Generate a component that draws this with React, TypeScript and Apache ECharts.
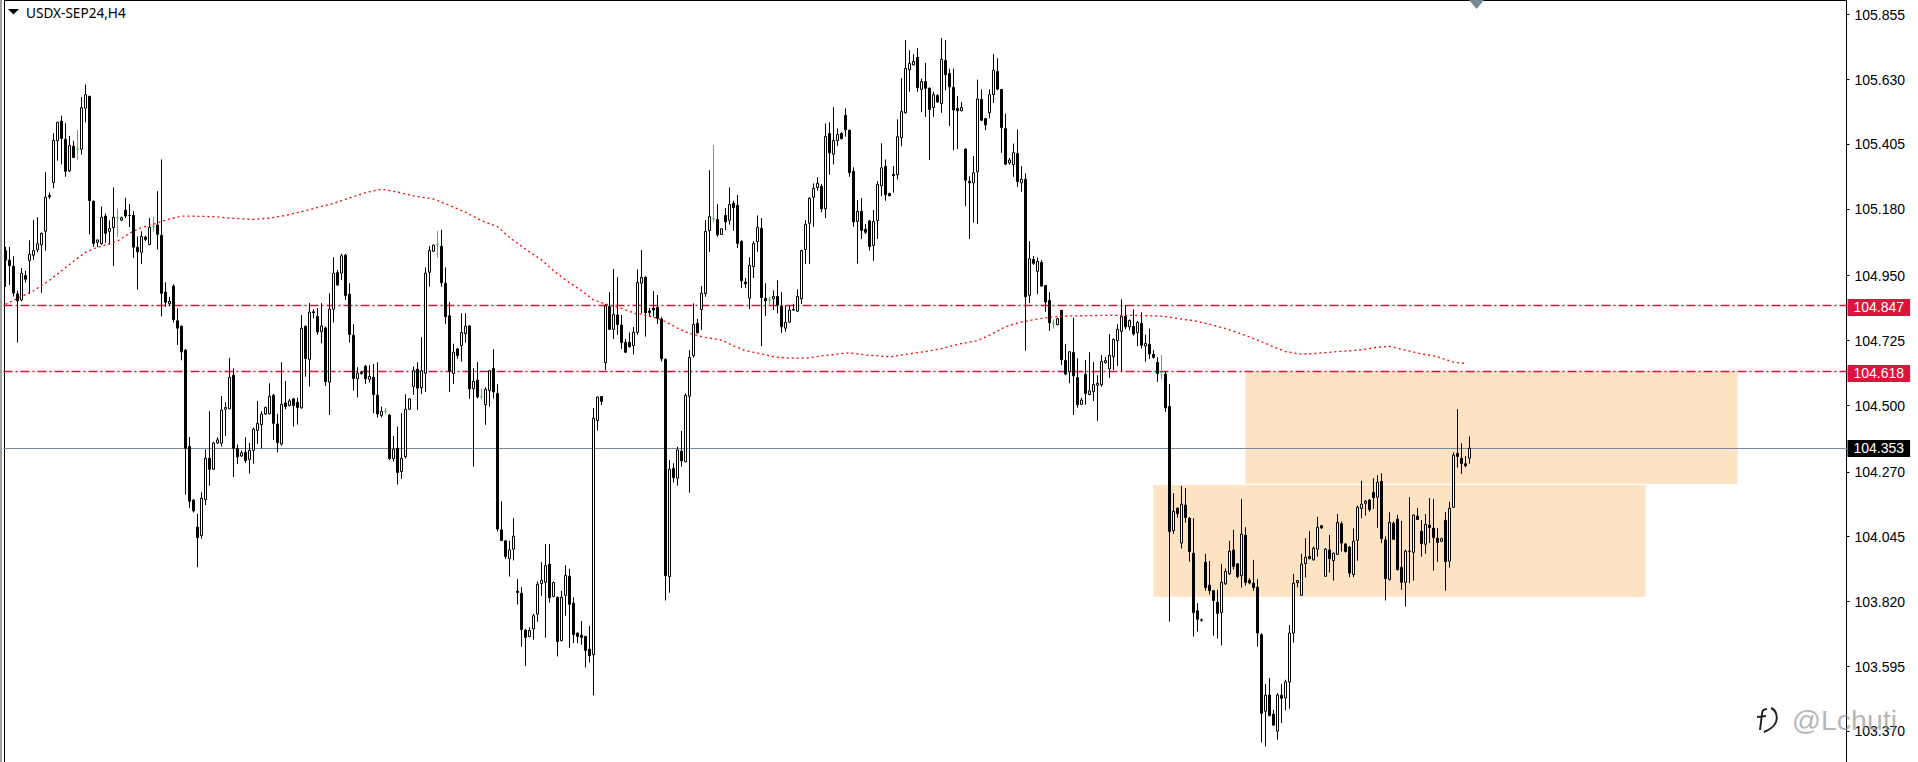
import React, { useEffect, useRef } from 'react';
import * as echarts from 'echarts';

const candles: number[][] = [
  [105.037, 105.004, 104.911, 105.05], [105.004, 104.985, 104.918, 105.05], [104.983, 104.89, 104.878, 105.017], [104.887, 104.863, 104.719, 104.898],
  [104.866, 104.959, 104.861, 104.977], [104.951, 104.938, 104.927, 104.967], [105.003, 105.024, 104.887, 105.073], [105.021, 105.037, 105.004, 105.143],
  [105.04, 105.061, 105.031, 105.153], [105.057, 105.097, 104.891, 105.1], [105.104, 105.222, 105.037, 105.309], [105.228, 105.224, 105.216, 105.239],
  [105.273, 105.419, 105.253, 105.444], [105.418, 105.482, 105.349, 105.484], [105.486, 105.426, 105.336, 105.505], [105.423, 105.312, 105.293, 105.479],
  [105.314, 105.402, 105.309, 105.435], [105.399, 105.36, 105.358, 105.418], [105.389, 105.389, 105.352, 105.455], [105.389, 105.533, 105.37, 105.57],
  [105.531, 105.578, 105.482, 105.613], [105.572, 105.211, 105.094, 105.574], [105.208, 105.062, 105.05, 105.211], [105.066, 105.074, 105.049, 105.075],
  [105.061, 105.153, 105.057, 105.19], [105.157, 105.097, 105.064, 105.166], [105.104, 105.114, 105.057, 105.142], [105.117, 105.153, 104.984, 105.256],
  [105.15, 105.15, 105.084, 105.183], [105.143, 105.151, 105.139, 105.155], [105.177, 105.157, 105.15, 105.22], [105.159, 105.159, 105.119, 105.199],
  [105.159, 105.049, 105.012, 105.174], [105.049, 105.033, 104.902, 105.086], [105.031, 105.086, 104.991, 105.104], [105.084, 105.076, 105.07, 105.089],
  [105.058, 105.118, 105.057, 105.15], [105.121, 105.121, 105.102, 105.154], [105.126, 105.094, 105.041, 105.243], [105.09, 104.889, 104.809, 105.353],
  [104.893, 104.858, 104.842, 104.927], [104.853, 104.861, 104.845, 104.877], [104.914, 104.798, 104.788, 104.92], [104.794, 104.768, 104.71, 104.837],
  [104.775, 104.686, 104.657, 104.777], [104.692, 104.351, 104.191, 104.696], [104.358, 104.168, 104.145, 104.391], [104.172, 104.135, 104.129, 104.175],
  [104.078, 104.042, 103.939, 104.125], [104.049, 104.179, 104.038, 104.199], [104.174, 104.317, 104.155, 104.348], [104.317, 104.279, 104.222, 104.48],
  [104.279, 104.37, 104.277, 104.374], [104.37, 104.381, 104.367, 104.39], [104.369, 104.484, 104.358, 104.533], [104.487, 104.493, 104.394, 104.511],
  [104.489, 104.598, 104.487, 104.665], [104.605, 104.351, 104.252, 104.629], [104.351, 104.322, 104.297, 104.365], [104.325, 104.336, 104.322, 104.344],
  [104.338, 104.309, 104.301, 104.39], [104.313, 104.344, 104.264, 104.37], [104.345, 104.418, 104.298, 104.423], [104.414, 104.438, 104.367, 104.516],
  [104.434, 104.47, 104.351, 104.48], [104.471, 104.493, 104.467, 104.496], [104.471, 104.532, 104.47, 104.577], [104.536, 104.438, 104.381, 104.54],
  [104.436, 104.371, 104.337, 104.471], [104.367, 104.504, 104.361, 104.65], [104.509, 104.496, 104.487, 104.585], [104.5, 104.516, 104.497, 104.523],
  [104.523, 104.5, 104.427, 104.527], [104.511, 104.493, 104.434, 104.527], [104.492, 104.768, 104.489, 104.814], [104.775, 104.663, 104.6, 104.777],
  [104.659, 104.824, 104.566, 104.855], [104.825, 104.822, 104.802, 104.834], [104.809, 104.755, 104.745, 104.838], [104.756, 104.776, 104.716, 104.855],
  [104.769, 104.583, 104.568, 104.774], [104.581, 104.834, 104.467, 104.889], [104.834, 104.959, 104.788, 105.014], [104.961, 104.918, 104.915, 104.97],
  [104.959, 105.019, 104.935, 105.026], [105.021, 104.881, 104.866, 105.026], [104.886, 104.746, 104.718, 104.924], [104.744, 104.593, 104.552, 104.782],
  [104.593, 104.612, 104.528, 104.633], [104.615, 104.611, 104.607, 104.62], [104.636, 104.593, 104.575, 104.641], [104.591, 104.601, 104.58, 104.64],
  [104.598, 104.538, 104.473, 104.644], [104.536, 104.471, 104.458, 104.65], [104.466, 104.48, 104.459, 104.496], [104.48, 104.48, 104.47, 104.491],
  [104.467, 104.316, 104.311, 104.471], [104.316, 104.348, 104.306, 104.395], [104.352, 104.268, 104.226, 104.427], [104.271, 104.317, 104.246, 104.473],
  [104.323, 104.487, 104.316, 104.539], [104.487, 104.523, 104.485, 104.525], [104.566, 104.621, 104.537, 104.635], [104.626, 104.56, 104.485, 104.65],
  [104.562, 104.621, 104.54, 104.737], [104.612, 104.959, 104.547, 104.979], [104.962, 105.038, 104.912, 105.053], [105.035, 105.056, 105.032, 105.058],
  [105.059, 105.059, 105.013, 105.105], [105.052, 104.926, 104.912, 105.109], [104.924, 104.808, 104.783, 104.979], [104.811, 104.619, 104.547, 104.858],
  [104.611, 104.685, 104.575, 104.714], [104.696, 104.673, 104.662, 104.699], [104.708, 104.753, 104.652, 104.82], [104.749, 104.775, 104.718, 104.82],
  [104.776, 104.558, 104.523, 104.779], [104.559, 104.584, 104.288, 104.629], [104.588, 104.53, 104.525, 104.651], [104.531, 104.531, 104.522, 104.56],
  [104.503, 104.556, 104.433, 104.563], [104.552, 104.621, 104.496, 104.623], [104.629, 104.547, 104.524, 104.695], [104.542, 104.072, 104.063, 104.574],
  [104.069, 104.032, 104.031, 104.168], [104.031, 103.976, 103.968, 104.032], [103.97, 104.0, 103.907, 104.031], [104.002, 104.047, 103.963, 104.109],
  [103.856, 103.852, 103.81, 103.898], [103.849, 103.723, 103.664, 103.87], [103.721, 103.696, 103.597, 103.726], [103.699, 103.72, 103.697, 103.731],
  [103.725, 103.771, 103.688, 103.778], [103.777, 103.88, 103.75, 103.89], [103.883, 103.894, 103.84, 103.957], [103.887, 103.945, 103.695, 104.02],
  [103.95, 103.834, 103.817, 104.02], [103.838, 103.886, 103.835, 103.89], [103.835, 103.682, 103.63, 103.838], [103.685, 103.835, 103.682, 103.857],
  [103.842, 103.911, 103.771, 103.946], [103.908, 103.811, 103.66, 103.934], [103.815, 103.706, 103.676, 103.835], [103.711, 103.699, 103.676, 103.713],
  [103.704, 103.696, 103.67, 103.753], [103.699, 103.651, 103.592, 103.702], [103.655, 103.633, 103.609, 103.736], [103.636, 104.456, 103.495, 104.491],
  [104.448, 104.529, 104.413, 104.531], [104.531, 104.514, 104.502, 104.533], [104.649, 104.845, 104.623, 104.852], [104.843, 104.764, 104.762, 104.894],
  [104.764, 104.816, 104.73, 104.974], [104.814, 104.781, 104.745, 104.945], [104.779, 104.718, 104.696, 104.814], [104.719, 104.685, 104.682, 104.731],
  [104.719, 104.704, 104.701, 104.753], [104.708, 104.754, 104.677, 104.772], [104.754, 104.927, 104.745, 104.972], [104.924, 104.944, 104.82, 105.039],
  [104.945, 104.822, 104.739, 104.948], [104.828, 104.822, 104.808, 104.839], [104.838, 104.831, 104.808, 104.897], [104.84, 104.802, 104.783, 104.883],
  [104.8, 104.662, 104.652, 104.806], [104.66, 103.91, 103.824, 104.664], [103.907, 104.279, 103.851, 104.311], [104.282, 104.25, 104.233, 104.3],
  [104.248, 104.346, 104.222, 104.357], [104.342, 104.308, 104.288, 104.412], [104.305, 104.535, 104.303, 104.542], [104.532, 104.667, 104.198, 104.692],
  [104.673, 104.781, 104.666, 104.854], [104.785, 104.752, 104.75, 104.8], [104.833, 104.889, 104.762, 104.914], [104.888, 105.104, 104.877, 105.143],
  [105.106, 105.155, 105.032, 105.316], [105.148, 105.148, 105.136, 105.403], [105.145, 105.092, 105.085, 105.198], [105.093, 105.113, 105.092, 105.114],
  [105.159, 105.137, 105.108, 105.185], [105.142, 105.197, 105.127, 105.256], [105.201, 105.186, 105.106, 105.21], [105.194, 105.062, 105.046, 105.23],
  [105.069, 104.933, 104.907, 105.073], [104.928, 104.922, 104.907, 104.942], [104.872, 104.986, 104.835, 105.014], [104.982, 105.062, 104.942, 105.07],
  [105.068, 105.118, 105.033, 105.159], [105.114, 104.874, 104.706, 105.15], [104.871, 104.863, 104.81, 104.924], [104.866, 104.866, 104.843, 104.877],
  [104.87, 104.878, 104.831, 104.899], [104.878, 104.848, 104.82, 104.934], [104.845, 104.773, 104.752, 104.893], [104.768, 104.788, 104.756, 104.847],
  [104.789, 104.831, 104.787, 104.846], [104.833, 104.831, 104.828, 104.852], [104.827, 104.878, 104.825, 104.903], [104.87, 105.038, 104.852, 105.039],
  [105.041, 105.128, 104.991, 105.143], [105.132, 105.218, 104.991, 105.223], [105.222, 105.253, 105.12, 105.27], [105.256, 105.27, 105.245, 105.291],
  [105.26, 105.182, 105.17, 105.268], [105.182, 105.433, 105.15, 105.478], [105.443, 105.376, 105.3, 105.482], [105.371, 105.419, 105.336, 105.534],
  [105.419, 105.44, 105.4, 105.461], [105.443, 105.425, 105.423, 105.448], [105.506, 105.456, 105.432, 105.53], [105.454, 105.307, 105.293, 105.457],
  [105.312, 105.137, 105.12, 105.326], [105.138, 105.173, 104.992, 105.212], [105.173, 105.107, 105.077, 105.219], [105.111, 105.101, 105.095, 105.129],
  [105.14, 105.051, 105.037, 105.143], [105.055, 105.138, 105.002, 105.178], [105.141, 105.267, 105.077, 105.278], [105.262, 105.324, 105.226, 105.409],
  [105.329, 105.231, 105.21, 105.353], [105.235, 105.227, 105.226, 105.238], [105.301, 105.297, 105.238, 105.33], [105.3, 105.432, 105.284, 105.492],
  [105.429, 105.519, 105.399, 105.635], [105.515, 105.669, 105.512, 105.767], [105.664, 105.686, 105.588, 105.732], [105.681, 105.693, 105.68, 105.718],
  [105.707, 105.602, 105.588, 105.739], [105.596, 105.623, 105.517, 105.634], [105.623, 105.6, 105.501, 105.688], [105.6, 105.526, 105.351, 105.603],
  [105.533, 105.578, 105.501, 105.588], [105.575, 105.552, 105.551, 105.58], [105.547, 105.7, 105.515, 105.774], [105.696, 105.647, 105.593, 105.767],
  [105.651, 105.605, 105.469, 105.668], [105.603, 105.525, 105.385, 105.668], [105.53, 105.522, 105.389, 105.573], [105.522, 105.533, 105.52, 105.552],
  [105.389, 105.281, 105.191, 105.391], [105.277, 105.272, 105.077, 105.295], [105.272, 105.307, 105.134, 105.365], [105.31, 105.563, 105.129, 105.63],
  [105.561, 105.489, 105.486, 105.596], [105.495, 105.473, 105.455, 105.496], [105.515, 105.578, 105.496, 105.596], [105.578, 105.662, 105.549, 105.718],
  [105.658, 105.597, 105.593, 105.704], [105.596, 105.464, 105.376, 105.597], [105.46, 105.337, 105.333, 105.512], [105.341, 105.351, 105.335, 105.358],
  [105.335, 105.377, 105.293, 105.408], [105.374, 105.276, 105.258, 105.457], [105.272, 105.284, 105.241, 105.33], [105.284, 104.877, 104.69, 105.305],
  [104.882, 105.009, 104.855, 105.07], [105.006, 104.993, 104.988, 105.018], [104.965, 105.0, 104.886, 105.013], [104.996, 104.914, 104.912, 105.004],
  [104.916, 104.859, 104.825, 104.917], [104.864, 104.787, 104.759, 104.893], [104.785, 104.785, 104.766, 104.798], [104.78, 104.801, 104.779, 104.804],
  [104.83, 104.659, 104.64, 104.831], [104.656, 104.609, 104.605, 104.713], [104.617, 104.686, 104.577, 104.689], [104.684, 104.603, 104.467, 104.804],
  [104.597, 104.503, 104.492, 104.664], [104.504, 104.519, 104.502, 104.527], [104.608, 104.542, 104.503, 104.658], [104.538, 104.551, 104.536, 104.685],
  [104.548, 104.573, 104.516, 104.651], [104.57, 104.577, 104.447, 104.605], [104.572, 104.653, 104.565, 104.675], [104.648, 104.656, 104.646, 104.668],
  [104.627, 104.674, 104.596, 104.748], [104.669, 104.729, 104.623, 104.733], [104.725, 104.764, 104.637, 104.782], [104.757, 104.809, 104.618, 104.868],
  [104.809, 104.773, 104.765, 104.848], [104.773, 104.795, 104.761, 104.798], [104.774, 104.748, 104.742, 104.833], [104.753, 104.788, 104.706, 104.793],
  [104.785, 104.709, 104.698, 104.823], [104.707, 104.715, 104.652, 104.746], [104.712, 104.679, 104.661, 104.767], [104.677, 104.667, 104.662, 104.692],
  [104.649, 104.611, 104.582, 104.667], [104.614, 104.614, 104.593, 104.675], [104.609, 104.492, 104.478, 104.617], [104.497, 104.063, 103.751, 104.575],
  [104.066, 104.133, 104.055, 104.196], [104.144, 104.125, 104.111, 104.146], [104.023, 104.158, 104.004, 104.221], [104.155, 104.112, 104.094, 104.214],
  [104.109, 103.994, 103.959, 104.113], [103.988, 103.782, 103.699, 104.109], [103.788, 103.759, 103.716, 103.815], [103.757, 103.756, 103.75, 103.761],
  [103.957, 103.869, 103.858, 103.986], [103.877, 103.858, 103.845, 103.961], [103.858, 103.824, 103.702, 103.858], [103.818, 103.779, 103.692, 103.861],
  [103.782, 103.887, 103.668, 103.951], [103.882, 103.925, 103.878, 103.935], [103.917, 103.995, 103.913, 104.031], [103.999, 103.942, 103.932, 104.069],
  [103.951, 103.907, 103.901, 103.953], [103.91, 104.054, 103.869, 104.176], [104.05, 103.887, 103.876, 104.078], [103.894, 103.885, 103.88, 103.901],
  [103.884, 103.869, 103.858, 103.965], [103.87, 103.711, 103.664, 103.898], [103.705, 103.433, 103.332, 103.711], [103.44, 103.496, 103.318, 103.535],
  [103.496, 103.425, 103.422, 103.555], [103.43, 103.392, 103.389, 103.445], [103.371, 103.496, 103.341, 103.503], [103.496, 103.485, 103.399, 103.535],
  [103.486, 103.542, 103.443, 103.549], [103.541, 103.711, 103.449, 103.739], [103.711, 103.884, 103.678, 103.916], [103.886, 103.893, 103.87, 103.895],
  [103.842, 103.95, 103.841, 103.986], [103.952, 103.974, 103.904, 104.04], [103.977, 103.969, 103.967, 104.065], [103.965, 104.005, 103.962, 104.011],
  [104.002, 104.078, 103.976, 104.114], [104.083, 104.076, 104.072, 104.086], [103.908, 104.002, 103.907, 104.005], [103.999, 103.969, 103.921, 104.051],
  [103.962, 103.988, 103.893, 103.99], [103.984, 104.095, 103.982, 104.124], [104.09, 104.023, 103.994, 104.098], [104.02, 103.994, 103.99, 104.023],
  [104.009, 103.919, 103.905, 104.013], [103.914, 104.029, 103.905, 104.074], [104.033, 104.147, 103.962, 104.153], [104.143, 104.158, 104.109, 104.239],
  [104.161, 104.168, 104.118, 104.173], [104.172, 104.139, 104.132, 104.176], [104.198, 104.181, 104.142, 104.248], [104.182, 104.234, 104.076, 104.258],
  [104.237, 104.039, 104.023, 104.265], [104.034, 103.9, 103.824, 104.046], [103.897, 104.095, 103.893, 104.13], [104.092, 104.036, 104.034, 104.098],
  [104.106, 103.931, 103.928, 104.121], [103.939, 103.887, 103.861, 104.1], [103.887, 103.995, 103.803, 104.0], [103.995, 103.994, 103.884, 104.182],
  [103.991, 104.12, 103.893, 104.123], [104.117, 104.105, 104.103, 104.145], [104.064, 104.021, 103.976, 104.103], [104.019, 104.088, 103.986, 104.124],
  [104.085, 104.077, 104.023, 104.179], [104.075, 104.042, 103.928, 104.176], [104.04, 104.025, 103.958, 104.075], [104.029, 104.038, 104.027, 104.042],
  [104.102, 103.959, 103.858, 104.131], [103.96, 104.144, 103.938, 104.166], [104.147, 104.328, 104.145, 104.338], [104.334, 104.323, 104.285, 104.487],
  [104.317, 104.299, 104.263, 104.369], [104.298, 104.291, 104.286, 104.325], [104.317, 104.352, 104.298, 104.393],
];

// doji bars that the terminal paints green
const greenBars = [18, 28, 37, 95, 108, 119, 177, 191, 262, 289];

// moving average, read at these bars
const maBars = [
  0, 7, 11, 14, 17, 20, 22, 25, 28, 31, 34, 38, 40, 44, 52, 57, 62, 66, 70, 74, 79, 82, 85, 87, 90, 94, 98, 102, 107, 111, 115, 119,
  123, 126, 130, 134, 137, 140, 144, 147, 150, 154, 158, 159, 163, 165, 168, 171, 175, 179, 182, 185, 189, 192, 196, 200, 204, 209,
  211, 215, 221, 225, 230, 234, 238, 239, 243, 246, 250, 254, 259, 264, 272, 280, 289, 293, 297, 301, 305, 309, 313, 318, 320, 324,
  328, 333, 339, 343, 346, 349, 354, 357, 360, 362, 365,
];
const maValues = [
  104.851, 104.898, 104.934, 104.967, 105.0, 105.031, 105.044, 105.057, 105.07, 105.097, 105.117, 105.133, 105.143, 105.157, 105.155,
  105.149, 105.145, 105.15, 105.159, 105.172, 105.19, 105.201, 105.215, 105.224, 105.238, 105.25, 105.24, 105.227, 105.216, 105.194,
  105.17, 105.141, 105.12, 105.083, 105.042, 105.005, 104.968, 104.935, 104.898, 104.866, 104.852, 104.837, 104.816, 104.817, 104.802,
  104.791, 104.768, 104.75, 104.736, 104.727, 104.707, 104.69, 104.679, 104.669, 104.664, 104.664, 104.672, 104.68, 104.683, 104.675,
  104.669, 104.677, 104.687, 104.697, 104.712, 104.715, 104.725, 104.744, 104.773, 104.79, 104.802, 104.81, 104.812, 104.813, 104.81,
  104.802, 104.794, 104.782, 104.767, 104.748, 104.727, 104.698, 104.687, 104.678, 104.681, 104.687, 104.693, 104.702, 104.705, 104.695,
  104.679, 104.672, 104.66, 104.65, 104.646,
];

const tickLabels = [105.855, 105.63, 105.405, 105.18, 104.95, 104.725, 104.5, 104.27, 104.045, 103.82, 103.595, 103.37];
const resistanceLevels = [104.847, 104.618];
const lastPrice = 104.353;

const TOTAL_BARS = 461;
const categories = Array.from({ length: TOTAL_BARS }, (_, i) => String(i));

const AXIS_FONT = '"Liberation Sans", sans-serif';
const LOGO = 'lchutiLogo';

echarts.graphic.registerShape(
  LOGO,
  echarts.graphic.extendPath(
    'M10 1C6 1 5 3 5 6L3 22M0 9L9 8M14 0C19 2 21 8 19 14C17 19 12 22 7 24',
    {},
  ),
);

const priceTag = (background: string) => ({
  show: true,
  position: 'end',
  distance: 0,
  formatter: (p: { value: number }) => Number(p.value).toFixed(3),
  color: '#fff',
  backgroundColor: background,
  fontFamily: AXIS_FONT,
  fontSize: 14,
  lineHeight: 14,
  padding: [2, 6, 1, 6],
  offset: [0, 2],
});

const App: React.FC = () => {
  const chartRef = useRef<HTMLDivElement>(null);

  useEffect(() => {
    if (!chartRef.current) return undefined;
    const chart = echarts.init(chartRef.current, undefined, { renderer: 'svg' });

    const candleData = candles.map((row, i) => {
      if (!greenBars.includes(i)) return row;
      const green = '#1ed81e';
      return {
        value: row,
        itemStyle: { color: green, color0: green, borderColor: green, borderColor0: green },
      };
    });

    chart.setOption({
      animation: false,
      backgroundColor: '#fff',
      grid: { left: 3.5, width: 1844, top: 0, height: 762 },
      xAxis: {
        type: 'category',
        data: categories,
        boundaryGap: true,
        show: false,
      },
      yAxis: {
        type: 'value',
        position: 'right',
        offset: -1,
        min: 103.264,
        max: 105.906,
        scale: true,
        splitLine: { show: false },
        axisLine: { show: true, onZero: false, lineStyle: { color: '#000', width: 1 } },
        axisTick: {
          show: true,
          length: 3,
          lineStyle: { color: '#000' },
          customValues: tickLabels,
        },
        axisLabel: {
          color: '#000',
          fontFamily: AXIS_FONT,
          fontSize: 14,
          margin: 8,
          customValues: tickLabels,
          formatter: (v: number) => v.toFixed(3),
        },
      },
      series: [
        {
          type: 'candlestick',
          z: 2,
          barWidth: 2,
          data: candleData,
          itemStyle: {
            color: '#fff',
            color0: '#000',
            borderColor: '#000',
            borderColor0: '#000',
            borderWidth: 1,
          },
          markArea: {
            silent: true,
            z: 0,
            itemStyle: { color: '#fde2c3' },
            data: [
              [
                { xAxis: '310', yAxis: 104.618 },
                { xAxis: '433', yAxis: 104.229 },
              ],
              [
                { xAxis: '287', yAxis: 104.2245 },
                { xAxis: '410', yAxis: 103.837 },
              ],
            ],
          },
          markLine: {
            silent: true,
            z: 1,
            symbol: 'none',
            precision: 3,
            data: [
              ...resistanceLevels.map((level) => ({
                yAxis: level,
                lineStyle: { color: '#dc143c', width: 1.4, type: [9, 3, 2, 3] },
                label: priceTag('#dc143c'),
              })),
              {
                yAxis: lastPrice,
                lineStyle: { color: '#778899', width: 1, type: 'solid' },
                label: { ...priceTag('#000'), offset: [0, 0.5] },
              },
            ],
          },
        },
        {
          type: 'line',
          z: 3,
          showSymbol: false,
          silent: true,
          connectNulls: true,
          lineStyle: { color: '#ff0000', width: 1.3, type: [2, 3] },
          data: maBars.map((bar, i) => [bar, maValues[i]]),
        },
      ],
      graphic: [
        { type: 'rect', shape: { x: 0, y: 0, width: 2, height: 762 }, style: { fill: '#a0a0a0' }, silent: true },
        { type: 'rect', shape: { x: 4, y: 0, width: 1, height: 762 }, style: { fill: '#000' }, silent: true },
        { type: 'rect', shape: { x: 4, y: 0, width: 1843, height: 1 }, style: { fill: '#000' }, silent: true },
        {
          type: 'polygon',
          shape: { points: [[8, 9], [19, 9], [13.5, 14.5]] },
          style: { fill: '#000' },
          silent: true,
        },
        {
          type: 'text',
          x: 26,
          y: 12,
          style: {
            text: 'USDX-SEP24,H4',
            fill: '#000',
            font: '13.6px "Noto Sans", sans-serif',
            verticalAlign: 'middle',
          },
          silent: true,
        },
        {
          type: 'polygon',
          shape: { points: [[1469, 0], [1484, 0], [1476.5, 9]] },
          style: { fill: '#778899' },
          silent: true,
        },
        {
          type: LOGO,
          x: 1757,
          y: 708,
          style: { fill: 'none', stroke: '#222', lineWidth: 2 },
          silent: true,
        },
        {
          type: 'text',
          x: 1792,
          y: 720,
          z: 10,
          style: {
            text: '@Lchuti',
            fill: 'rgba(140,140,140,0.65)',
            font: '28.5px "Liberation Sans", sans-serif',
            verticalAlign: 'middle',
          },
          silent: true,
        },
      ],
    });

    return () => {
      chart.dispose();
    };
  }, []);

  return (
    <div
      ref={chartRef}
      style={{ position: 'absolute', left: 0, top: 0, width: 1918, height: 762 }}
    />
  );
};

export default App;
